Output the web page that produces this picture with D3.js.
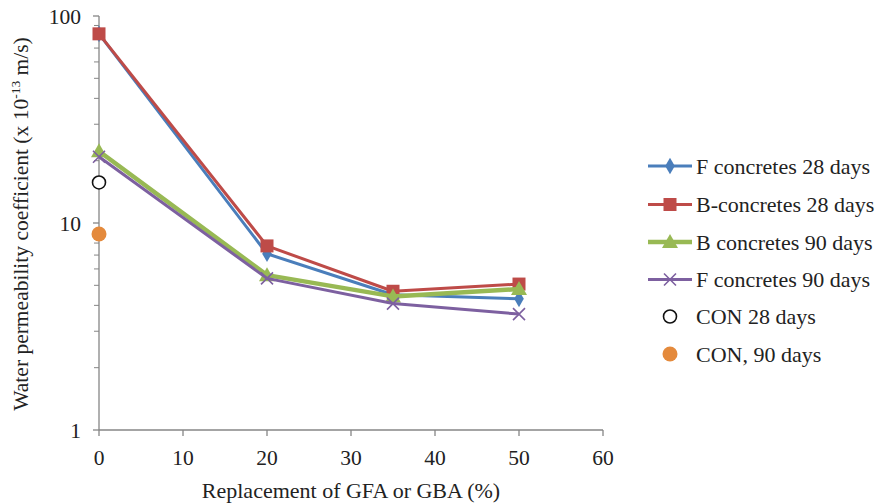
<!DOCTYPE html>
<html>
<head>
<meta charset="utf-8">
<script src="https://cdn.jsdelivr.net/npm/d3@7"></script>
<style>
  body { margin: 0; background: #fff; }
  svg text { font-family: "Liberation Serif", "Times New Roman", serif; fill: #222; }
</style>
</head>
<body>
<svg id="chart" width="878" height="503"></svg>
<script>
// Replacement level (%) of GFA / GBA
const replacement = [0, 20, 35, 50];

// Water permeability coefficient (x 10^-13 m/s)
const fConcretes28 = [82, 7.1, 4.5, 4.3];
const bConcretes28 = [82, 7.75, 4.68, 5.07];
const bConcretes90 = [22.2, 5.6, 4.42, 4.8];
const fConcretes90 = [20.9, 5.4, 4.08, 3.63];
const con28 = [15.7];
const con90 = [8.85];

const xTicks = [0, 10, 20, 30, 40, 50, 60];
const yTicks = [1, 10, 100];

const seriesNames = [
  "F concretes 28 days",
  "B-concretes 28 days",
  "B concretes 90 days",
  "F concretes 90 days",
  "CON 28 days",
  "CON, 90 days"
];

const svg = d3.select("#chart");
const plotLeft = 99, plotRight = 603, plotTop = 16, plotBottom = 430;

const x = d3.scaleLinear().domain([0, 60]).range([plotLeft, plotRight]);
const y = d3.scaleLog().domain([1, 100]).range([plotBottom, plotTop]);

const axisColor = "#868686";
const fontSize = 21.5;

// Y axis with major and minor (2..9) ticks
const minor = [];
for (let d = 1; d < 100; d *= 10) for (let k = 2; k <= 9; k++) minor.push(d * k);

const yAxisG = svg.append("g").attr("transform", `translate(${plotLeft},0)`);
yAxisG.append("line").attr("x1", 0).attr("x2", 0).attr("y1", y(100)).attr("y2", y(1))
  .attr("stroke", axisColor).attr("stroke-width", 1.3);
yAxisG.selectAll("line.minor").data(minor).enter().append("line")
  .attr("class", "minor").attr("x1", -5).attr("x2", 0)
  .attr("y1", d => y(d)).attr("y2", d => y(d))
  .attr("stroke", axisColor).attr("stroke-width", 1);
yAxisG.selectAll("line.major").data(yTicks).enter().append("line")
  .attr("class", "major").attr("x1", -6).attr("x2", 0)
  .attr("y1", d => y(d)).attr("y2", d => y(d))
  .attr("stroke", axisColor).attr("stroke-width", 1.3);
yAxisG.selectAll("text").data(yTicks).enter().append("text")
  .attr("x", -18).attr("y", d => y(d)).attr("dy", "0.35em")
  .attr("text-anchor", "end").attr("font-size", fontSize)
  .text(d => d);

// X axis
const xAxisG = svg.append("g").attr("transform", `translate(0,${plotBottom})`);
xAxisG.append("line").attr("x1", x(0)).attr("x2", x(60)).attr("y1", 0).attr("y2", 0)
  .attr("stroke", axisColor).attr("stroke-width", 1.3);
xAxisG.selectAll("line.tick").data(xTicks).enter().append("line")
  .attr("class", "tick").attr("x1", d => x(d)).attr("x2", d => x(d))
  .attr("y1", 0).attr("y2", 6).attr("stroke", axisColor).attr("stroke-width", 1.3);
xAxisG.selectAll("text").data(xTicks).enter().append("text")
  .attr("x", d => x(d)).attr("y", 35).attr("text-anchor", "middle")
  .attr("font-size", fontSize).text(d => d);

// Axis titles
svg.append("text").attr("x", 351).attr("y", 498).attr("text-anchor", "middle")
  .attr("font-size", 22).text("Replacement of GFA or GBA (%)");

const yTitle = svg.append("text")
  .attr("transform", `translate(28,224) rotate(-90)`)
  .attr("text-anchor", "middle").attr("font-size", 21.5);
yTitle.append("tspan").text("Water permeability coefficient (x 10");
yTitle.append("tspan").attr("font-size", 13.5).attr("dy", -8).text("-13");
yTitle.append("tspan").attr("dy", 8).text(" m/s)");

// Marker drawing helpers
function marker(g, shape, color, cx, cy) {
  if (shape === "diamond") {
    g.append("path").attr("d", d3.symbol(d3.symbolDiamond, 80)())
      .attr("transform", `translate(${cx},${cy})`).attr("fill", color);
  } else if (shape === "square") {
    g.append("rect").attr("x", cx - 6.5).attr("y", cy - 6.5).attr("width", 13).attr("height", 13)
      .attr("fill", color);
  } else if (shape === "triangle") {
    g.append("path").attr("d", `M${cx},${cy - 8}L${cx + 8},${cy + 6}L${cx - 8},${cy + 6}Z`)
      .attr("fill", color);
  } else if (shape === "x") {
    g.append("path").attr("d", `M${cx - 6},${cy - 6}L${cx + 6},${cy + 6}M${cx - 6},${cy + 6}L${cx + 6},${cy - 6}`)
      .attr("stroke", color).attr("stroke-width", 1.6).attr("fill", "none");
  } else if (shape === "openCircle") {
    g.append("circle").attr("cx", cx).attr("cy", cy).attr("r", 6.5)
      .attr("fill", "#fff").attr("stroke", "#111").attr("stroke-width", 1.6);
  } else if (shape === "filledCircle") {
    g.append("circle").attr("cx", cx).attr("cy", cy).attr("r", 7.5).attr("fill", color);
  }
}

const lineSeries = [
  { name: seriesNames[0], values: fConcretes28, color: "#4A7EBB", width: 3, shape: "diamond" },
  { name: seriesNames[1], values: bConcretes28, color: "#BE4B48", width: 3, shape: "square" },
  { name: seriesNames[2], values: bConcretes90, color: "#98B954", width: 4.5, shape: "triangle" },
  { name: seriesNames[3], values: fConcretes90, color: "#7D60A0", width: 3, shape: "x" }
];

const line = d3.line().x(d => x(d[0])).y(d => y(d[1]));
const plot = svg.append("g");

lineSeries.forEach(s => {
  const pts = replacement.map((r, i) => [r, s.values[i]]);
  plot.append("path").datum(pts).attr("d", line)
    .attr("fill", "none").attr("stroke", s.color).attr("stroke-width", s.width)
    .attr("stroke-linejoin", "round");
  pts.forEach(p => marker(plot, s.shape, s.color, x(p[0]), y(p[1])));
});

// Control concrete points
marker(plot, "openCircle", "#111", x(0), y(con28[0]));
marker(plot, "filledCircle", "#E48A3C", x(0), y(con90[0]));

// Legend
const legend = svg.append("g");
const legendRows = [166, 204.5, 242, 279.5, 316.5, 354];
const legendFont = 22;
lineSeries.forEach((s, i) => {
  const cy = legendRows[i];
  legend.append("line").attr("x1", 648).attr("x2", 692).attr("y1", cy).attr("y2", cy)
    .attr("stroke", s.color).attr("stroke-width", s.width);
  marker(legend, s.shape, s.color, 670, cy);
  legend.append("text").attr("x", 696).attr("y", cy).attr("dy", "0.35em")
    .attr("font-size", legendFont).text(s.name);
});
marker(legend, "openCircle", "#111", 670, legendRows[4]);
legend.append("text").attr("x", 696).attr("y", legendRows[4]).attr("dy", "0.35em")
  .attr("font-size", legendFont).text(seriesNames[4]);
marker(legend, "filledCircle", "#E48A3C", 670, legendRows[5]);
legend.append("text").attr("x", 696).attr("y", legendRows[5]).attr("dy", "0.35em")
  .attr("font-size", legendFont).text(seriesNames[5]);
</script>
</body>
</html>
